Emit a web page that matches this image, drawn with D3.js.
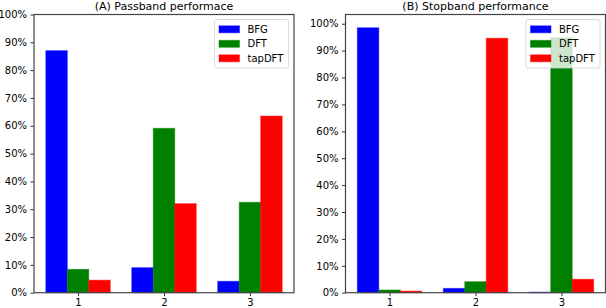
<!DOCTYPE html>
<html lang="en">
<head>
    <meta charset="UTF-8">
    <title>Passband / Stopband</title>
    <style>
        body { margin: 0; background: #fff; }
        text { font-family: "DejaVu Sans", sans-serif; fill: #000; }
    </style>
</head>
<body>
<div id="container"></div>
<script src="https://cdn.jsdelivr.net/npm/d3@7"></script>
<script>
    const groups = [1, 2, 3]
    const seriesNames = ['BFG', 'DFT', 'tapDFT']
    const seriesColors = ['#0000ff', '#008000', '#ff0000']

    // fractions
    const passBFG = [0.870, 0.090, 0.041]
    const passDFT = [0.084, 0.591, 0.325]
    const passTap = [0.045, 0.320, 0.635]

    const stopBFG = [0.985, 0.016, 0.002]
    const stopDFT = [0.010, 0.041, 0.948]
    const stopTap = [0.006, 0.946, 0.050]

    const yTicks = [0, 0.1, 0.2, 0.3, 0.4, 0.5, 0.6, 0.7, 0.8, 0.9, 1.0]

    const width = 606
    const height = 308
    const barWidth = 0.25
    const tickLen = 3.5

    const svg = d3.select('#container').append('svg')
        .attr('width', width)
        .attr('height', height)

    const panels = [
        {title: '(A) Passband performace', series: [passBFG, passDFT, passTap],
            x0: 34, x1: 294, yMax: 1.0},
        {title: '(B) Stopband performance', series: [stopBFG, stopDFT, stopTap],
            x0: 345.5, x1: 605.5, yMax: null}
    ]

    const plotTop = 14.5
    const plotBottom = 292.7

    panels.forEach(p => {
        const maxVal = d3.max(p.series.flat())
        const yMax = p.yMax || maxVal * 1.05

        const x = d3.scaleLinear().domain([0.4875, 3.5125]).range([p.x0, p.x1])
        const y = d3.scaleLinear().domain([0, yMax]).range([plotBottom, plotTop])

        const g = svg.append('g')

        // bars
        p.series.forEach((vals, si) => {
            g.append('g')
                .selectAll('rect')
                .data(vals)
                .enter()
                .append('rect')
                .attr('x', (d, i) => x(groups[i] + (si - 1) * barWidth - barWidth / 2))
                .attr('width', x(barWidth) - x(0))
                .attr('y', d => y(d))
                .attr('height', d => y(0) - y(d))
                .attr('fill', seriesColors[si])
                .attr('stroke', seriesColors[si])
                .attr('stroke-opacity', 0.45)
                .attr('stroke-width', 1)
        })

        // y axis
        const yAxis = d3.axisLeft(y)
            .tickValues(yTicks.filter(t => t <= yMax + 1e-9))
            .tickFormat(d3.format('.0%'))
            .tickSize(tickLen)
            .tickPadding(3.5)
        const ya = g.append('g')
            .attr('transform', `translate(${p.x0},0)`)
            .call(yAxis)
        ya.select('.domain').remove()
        ya.selectAll('text').attr('font-size', '10px').attr('font-family', '"DejaVu Sans", sans-serif')
        ya.selectAll('line').attr('stroke', '#333')

        // x axis
        const xAxis = d3.axisBottom(x)
            .tickValues(groups)
            .tickFormat(d3.format('d'))
            .tickSize(tickLen)
            .tickPadding(2.5)
        const xa = g.append('g')
            .attr('transform', `translate(0,${plotBottom})`)
            .call(xAxis)
        xa.select('.domain').remove()
        xa.selectAll('text').attr('font-size', '10px').attr('font-family', '"DejaVu Sans", sans-serif')
        xa.selectAll('line').attr('stroke', '#333')

        // frame
        g.append('rect')
            .attr('x', p.x0)
            .attr('y', plotTop)
            .attr('width', p.x1 - p.x0)
            .attr('height', plotBottom - plotTop)
            .attr('fill', 'none')
            .attr('stroke', '#444')
            .attr('stroke-width', 1.2)

        // title
        g.append('text')
            .attr('x', (p.x0 + p.x1) / 2)
            .attr('y', 9.6)
            .attr('text-anchor', 'middle')
            .attr('font-size', '11px')
            .text(p.title)

        // legend
        const lgX = p.x1 - 79.5
        const lgY = 19.5
        const lg = g.append('g').attr('transform', `translate(${lgX},${lgY})`)
        lg.append('rect')
            .attr('width', 74)
            .attr('height', 48.5)
            .attr('rx', 2)
            .attr('fill', 'white')
            .attr('fill-opacity', 0.8)
            .attr('stroke', '#d0d0d0')
            .attr('stroke-width', 0.8)
        const items = lg.selectAll('g.item')
            .data(seriesNames)
            .enter()
            .append('g')
            .attr('transform', (d, i) => `translate(0,${9.8 + i * 14.5})`)
        items.append('rect')
            .attr('x', 4.5)
            .attr('y', -3.5)
            .attr('width', 20.5)
            .attr('height', 7)
            .attr('fill', (d, i) => seriesColors[i])
            .attr('stroke', (d, i) => seriesColors[i])
            .attr('stroke-opacity', 0.45)
        items.append('text')
            .attr('x', 33)
            .attr('y', 3.6)
            .attr('font-size', '10px')
            .text(d => d)
    })
</script>
</body>
</html>
